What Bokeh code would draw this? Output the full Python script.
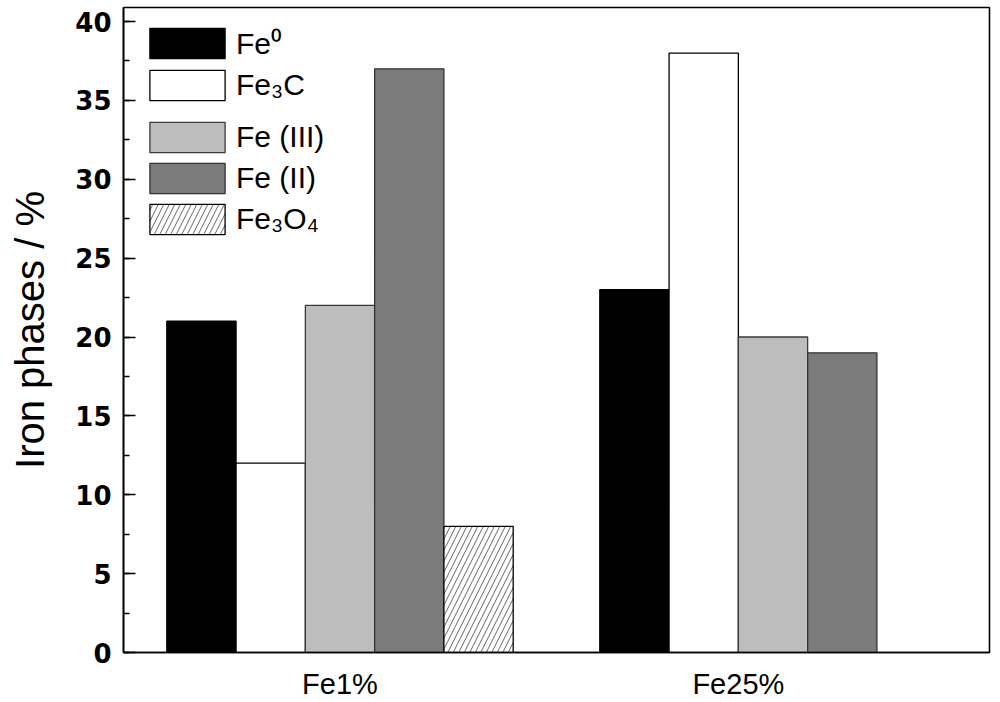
from bokeh.plotting import figure
from bokeh.models import (ColumnDataSource, Legend, LegendItem, FixedTicker,
                          SingleIntervalTicker, Range1d)
from bokeh.embed import file_html
from bokeh.resources import INLINE

# ---- data ----
categories = ["Fe1%", "Fe25%"]
series_labels = ["Fe⁰", "Fe₃C", "Fe (III)", "Fe (II)", "Fe₃O₄"]
fe0 = [21, 23]
fe3c = [12, 38]
fe_iii = [22, 20]
fe_ii = [37, 19]
fe3o4 = [8, None]
series_values = [fe0, fe3c, fe_iii, fe_ii, fe3o4]

# ---- styles ----
fills = ["black", "white", "#bdbdbd", "#7b7b7b", "white"]
lines = ["black", "black", "#3a3a3a", "#333333", "black"]
hatches = [None, None, None, None, "/"]
bw = 0.16
n = len(series_labels)

p = figure(width=1000, height=702, output_backend="svg", toolbar_location=None,
           x_range=Range1d(0.5, 2.5), y_range=Range1d(0, 40.89),
           min_border_left=123, min_border_right=11, min_border_top=7,
           min_border_bottom=50)
p.background_fill_color = "white"
p.border_fill_color = "white"
p.outline_line_color = "black"
p.outline_line_width = 1.6
p.xgrid.visible = False
p.ygrid.visible = False

renderers = []
centers = {i: [] for i in range(len(categories))}
for k, vals in enumerate(series_values):
    xs, tops = [], []
    for i, v in enumerate(vals):
        if v is None:
            continue
        xc = (i + 1) + (k - (n - 1) / 2) * bw
        xs.append(xc)
        tops.append(v)
        centers[i].append(xc)
    src = ColumnDataSource(dict(x=xs, top=tops))
    kw = dict(x="x", top="top", bottom=0, width=bw, source=src,
              fill_color=fills[k], line_color=lines[k], line_width=1.3)
    if hatches[k]:
        kw.update(hatch_pattern=hatches[k], hatch_color="#666666",
                  hatch_scale=11, hatch_weight=1)
    r = p.vbar(**kw)
    renderers.append(r)

tick_pos = [sum(c) / len(c) for c in centers.values()]

# x axis
p.xaxis.ticker = FixedTicker(ticks=tick_pos)
p.xaxis.major_label_overrides = {t: c for t, c in zip(tick_pos, categories)}
p.xaxis.major_tick_line_color = None
p.xaxis.minor_tick_line_color = None
p.xaxis.axis_line_width = 1.6
p.xaxis.axis_line_color = "black"
p.xaxis.major_label_text_font = "Liberation Sans"
p.xaxis.major_label_text_font_size = "29px"
p.xaxis.major_label_text_color = "black"
p.xaxis.major_label_standoff = 9

# y axis
p.yaxis.ticker = SingleIntervalTicker(interval=5, num_minor_ticks=2)
p.yaxis.major_tick_in = 12
p.yaxis.major_tick_out = 0
p.yaxis.minor_tick_in = 6
p.yaxis.minor_tick_out = 0
p.yaxis.major_tick_line_width = 1.5
p.yaxis.minor_tick_line_width = 1.5
p.yaxis.axis_line_width = 1.6
p.yaxis.axis_line_color = "black"
p.yaxis.major_label_text_font = "DejaVu Sans"
p.yaxis.major_label_text_font_style = "bold"
p.yaxis.major_label_text_font_size = "26px"
p.yaxis.major_label_text_color = "black"
p.yaxis.major_label_standoff = 12
p.yaxis.axis_label = "Iron phases / %"
p.yaxis.axis_label_text_font = "Liberation Sans"
p.yaxis.axis_label_text_font_style = "normal"
p.yaxis.axis_label_text_font_size = "40px"
p.yaxis.axis_label_text_color = "black"
p.yaxis.axis_label_standoff = 20

def make_legend(idx, loc):
    leg = Legend(items=[LegendItem(label=series_labels[k], renderers=[renderers[k]]) for k in idx],
                 location=loc, orientation="vertical")
    leg.glyph_width = 94
    leg.glyph_height = 38
    leg.label_height = 38
    leg.label_text_font = "Liberation Sans"
    leg.label_text_font_size = "30px"
    leg.label_text_color = "black"
    leg.label_standoff = 2
    leg.spacing = 3
    leg.padding = 0
    leg.margin = 0
    leg.border_line_color = None
    leg.background_fill_alpha = 0
    return leg

p.add_layout(make_legend([0, 1], (17, 548)))
p.add_layout(make_legend([2, 3, 4], (17, 414)))

open("out.html", "w").write(file_html(p, INLINE))
